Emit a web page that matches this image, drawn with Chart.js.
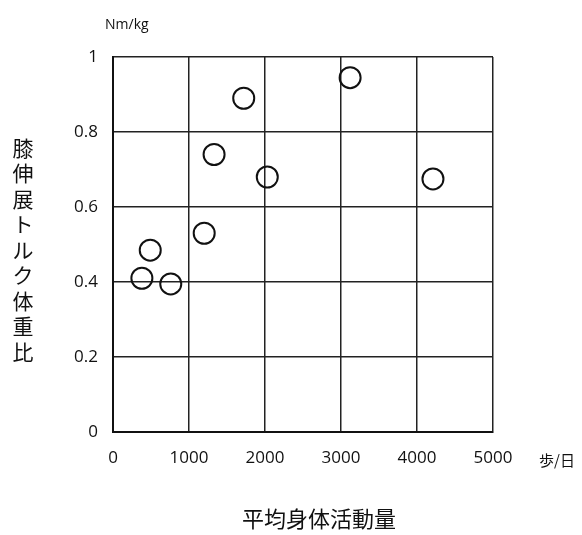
<!DOCTYPE html>
<html>
<head>
<meta charset="utf-8">
<script src="https://cdn.jsdelivr.net/npm/chart.js@4.4.1/dist/chart.umd.min.js"></script>
<style>
body{margin:0;background:#fff;}
canvas{display:block;}
</style>
</head>
<body>
<canvas id="scatter" width="582" height="535"></canvas>
<script>
// data
const steps = [3120, 1720, 1330, 2030, 4210, 1200, 490, 380, 760];
const torque = [0.945, 0.89, 0.74, 0.68, 0.675, 0.53, 0.485, 0.41, 0.395];
const xTicks = [0, 1000, 2000, 3000, 4000, 5000];
const yTicks = [0, 0.2, 0.4, 0.6, 0.8, 1];

const yTitle = '膝伸展トルク体重比';
const xTitle = '平均身体活動量';

const points = steps.map((s, i) => ({x: s, y: torque[i]}));

const tickFont = {family: '"Open Sans", sans-serif', size: 17};
const jpFont = '"Noto Sans CJK JP", sans-serif';

/* extra labels */
const labels = {
  id: 'labels',
  afterDraw(chart){
    const ctx = chart.ctx;
    const area = chart.chartArea;
    ctx.save();
    ctx.fillStyle = '#111';
    ctx.font = '14px "Open Sans", sans-serif';
    ctx.textAlign = 'left';
    ctx.textBaseline = 'alphabetic';
    ctx.fillText('Nm/kg', area.left - 8, 29);
    ctx.font = '15px ' + jpFont;
    ctx.textBaseline = 'middle';
    ctx.fillText('歩/日', 539, 460);

    ctx.font = '21px ' + jpFont;
    ctx.textAlign = 'center';
    for(let i = 0; i < yTitle.length; i++){
      ctx.fillText(yTitle[i], 23, 148 + i * 25.5);
    }
    ctx.font = '22px ' + jpFont;
    ctx.fillText(xTitle, 319, 519);
    ctx.restore();
  }
};

new Chart(document.getElementById('scatter'), {
  type: 'scatter',
  data: {
    datasets: [{
      data: points,
      pointStyle: 'circle',
      pointRadius: 10.5,
      pointHoverRadius: 10.5,
      borderWidth: 2,
      borderColor: '#111',
      backgroundColor: 'rgba(0,0,0,0)'
    }]
  },
  options: {
    responsive: false,
    animation: false,
    events: [],
    layout: {padding: {top: 57, right: 89, left: 0, bottom: 0}},
    plugins: {legend: {display: false}, tooltip: {enabled: false}},
    scales: {
      x: {
        type: 'linear',
        min: 0,
        max: 5000,
        afterBuildTicks: s => { s.ticks = xTicks.map(v => ({value: v})); },
        afterFit: s => { s.height = 103; },
        grid: {color: '#222', lineWidth: 1.5, drawTicks: false},
        border: {color: '#111', width: 2},
        ticks: {color: '#111', font: tickFont, padding: 16, maxRotation: 0, callback: v => String(v)}
      },
      y: {
        type: 'linear',
        min: 0,
        max: 1,
        afterBuildTicks: s => { s.ticks = yTicks.map(v => ({value: v})); },
        afterFit: s => { s.width = 113; },
        grid: {color: '#222', lineWidth: 1.5, drawTicks: false},
        border: {color: '#111', width: 2},
        ticks: {color: '#111', font: tickFont, padding: 15, callback: v => String(v)}
      }
    }
  },
  plugins: [labels]
});
</script>
</body>
</html>
